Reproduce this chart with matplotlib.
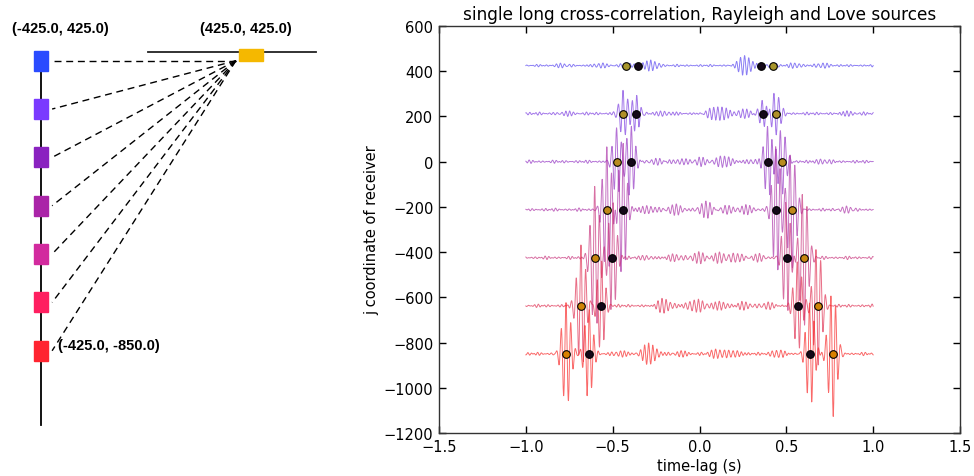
import numpy as np
import matplotlib
matplotlib.use('Agg')
import matplotlib.pyplot as plt
from matplotlib.patches import Rectangle

# ---------------- data ----------------
rec_x = -425.0
rec_y = [425.0, 212.5, 0.0, -212.5, -425.0, -637.5, -850.0]
src_x, src_y = 425.0, 425.0

rec_colors = ['#2a4bff', '#7a3aff', '#8a22c0', '#aa24a8', '#d22a9e', '#ff1f60', '#ff2430']
src_color = '#f5b800'

trace_colors = ['#5a48f0', '#7c3ee0', '#9436c4', '#ac34a8', '#c8347c', '#e03052', '#f82a2a']
love_dot_colors = ['#a8962c', '#b09028', '#b88c20', '#c08818', '#c88610', '#d08408', '#d88000']

# arrival times (s)
t_rayleigh = [0.354, 0.365, 0.396, 0.443, 0.501, 0.567, 0.638]
t_love = [0.425, 0.438, 0.475, 0.531, 0.601, 0.680, 0.766]

# peak amplitudes of the packets at the arrivals (units of j)
amp_love_neg = [8, 100, 150, 280, 320, 270, 230]
amp_ray_neg = [8, 80, 160, 300, 250, 200, 200]
amp_love_pos = [10, 95, 150, 260, 300, 265, 280]
amp_ray_pos = [10, 65, 160, 280, 250, 200, 230]

# smaller packets between the arrivals: (time, amplitude)
mid_t = [[-0.58, -0.28, 0.26, 0.71, -0.8, 0.55],
         [-0.77, 0.06, 0.13, 0.85, -0.2, 0.25],
         [-0.25, 0.0, 0.146, 0.7, -0.1, 0.3],
         [-0.13, 0.04, 0.27, 0.85, -0.3, 0.15],
         [0.0, 0.12, 0.2, -0.3, -0.15, 0.35],
         [-0.21, 0.12, 0.0, 0.25, -0.05, 0.4],
         [-0.286, 0.1, 0.2, -0.45, -0.1, 0.45]]
mid_a = [[12, 25, 45, 10, 8, 10],
         [13, 18, 28, 12, 14, 20],
         [12, 18, 30, 10, 15, 14],
         [25, 35, 22, 12, 20, 18],
         [25, 25, 22, 12, 16, 18],
         [32, 22, 18, 18, 16, 14],
         [48, 20, 18, 15, 14, 16]]
bg_amp = [6, 8, 8, 8, 8, 8, 8]

lag_min, lag_max = -1.0, 1.0

# ---------------- figure ----------------
fig = plt.figure(figsize=(9.74, 4.77), dpi=100)

# ---- left schematic ----
axl = fig.add_axes([0, 0, 340 / 974, 1])
axl.set_xlim(-591.0, 785.5)
axl.set_ylim(-1400.5, 696.2)
axl.axis('off')

axl.plot([rec_x, rec_x], [rec_y[0], -1176], color='black', lw=1.3, zorder=1)
axl.plot([7, 688], [462, 462], color='#222222', lw=1.3, zorder=1)
rw, rh = 56.7, 87.9
for y, c in zip(rec_y, rec_colors):
    axl.add_patch(Rectangle((rec_x - rw / 2, y - rh / 2), rw, rh, color=c, zorder=3))
    axl.plot([364, -380], [src_y, y], color='black', lw=1.0, dashes=(5, 3.4), zorder=2)
axl.add_patch(Rectangle((src_x - 48.5, src_y), 97, 51.4, color=src_color, zorder=3))

lab_kw = dict(fontsize=10.5, fontweight='bold', family=['Liberation Sans', 'DejaVu Sans'],
              va='center', color='black')
axl.text(-348, 568, '(%.1f, %.1f)' % (rec_x, rec_y[0]), ha='center', **lab_kw)
axl.text(404, 567, '(%.1f, %.1f)' % (src_x, src_y), ha='center', **lab_kw)
axl.text(-355, -825, '(%.1f, %.1f)' % (rec_x, rec_y[-1]), ha='left', **lab_kw)

# ---- right: cross-correlations ----
ax = fig.add_axes([439 / 974, 43 / 477, 521 / 974, 407 / 477])

t = np.arange(lag_min, lag_max + 1e-9, 0.001)


def packet(t0, a, sig, f, ph=0.0):
    return a * np.exp(-0.5 * ((t - t0) / sig) ** 2) * np.cos(2 * np.pi * f * (t - t0) + ph)


for i, y0 in enumerate(rec_y):
    tr = bg_amp[i] * (0.55 * np.sin(2 * np.pi * 52 * t + 0.7 * i)
                      + 0.45 * np.sin(2 * np.pi * 37 * t + 1.9 * i)) \
        * (0.7 + 0.3 * np.sin(2 * np.pi * 6.3 * t + 1.3 * i))
    tr += packet(-t_love[i], amp_love_neg[i], 0.024, 36, 0.6)
    tr += packet(-t_rayleigh[i], amp_ray_neg[i], 0.022, 38, -0.9)
    tr += packet(t_love[i], amp_love_pos[i], 0.024, 36, 2.2)
    tr += packet(t_rayleigh[i], amp_ray_pos[i], 0.022, 38, 1.1)
    for tm, am in zip(mid_t[i], mid_a[i]):
        tr += packet(tm, am, 0.035, 42, 0.3 * i)
    ax.plot(t, y0 + tr, color=trace_colors[i], lw=0.7, alpha=0.7, zorder=2)

for i, y0 in enumerate(rec_y):
    ax.plot([-t_rayleigh[i], t_rayleigh[i]], [y0, y0], ls='none', marker='o', ms=5.5,
            mfc='#140818', mec='black', mew=0.8, zorder=4)
    ax.plot([-t_love[i], t_love[i]], [y0, y0], ls='none', marker='o', ms=5.5,
            mfc=love_dot_colors[i], mec='black', mew=0.8, zorder=4)

ax.set_xlim(-1.5, 1.5)
ax.set_ylim(-1200, 600)
ax.set_xticks(np.arange(-1.5, 1.51, 0.5))
ax.set_yticks(np.arange(-1200, 601, 200))
ax.tick_params(direction='in', top=True, right=True, length=5, width=1, labelsize=10.5, pad=4)
for s in ax.spines.values():
    s.set_linewidth(1.0)
    s.set_color('#333333')
ax.set_title('single long cross-correlation, Rayleigh and Love sources', fontsize=12.2, pad=5)
ax.set_xlabel('time-lag (s)', fontsize=10.5, labelpad=3)
ax.set_ylabel('j coordinate of receiver', fontsize=10.5, labelpad=3)

fig.savefig('out.png', dpi=100)
